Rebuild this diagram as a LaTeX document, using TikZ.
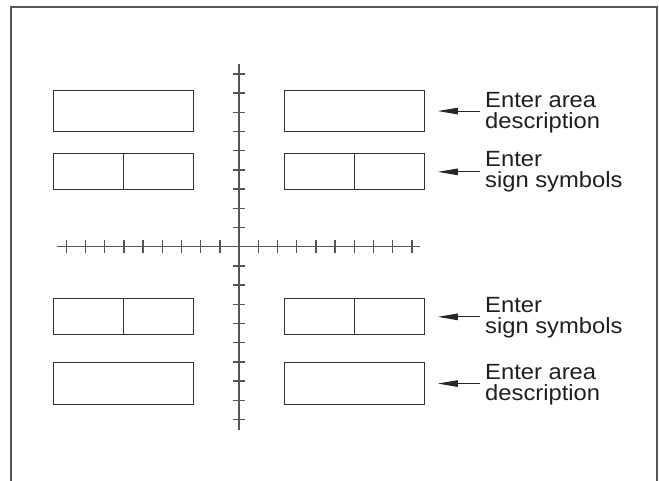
\documentclass[tikz,border=0pt]{standalone}
\usepackage{fontspec}
\newfontfamily\labelfont[FakeStretch=1.08]{Liberation Sans}
\usetikzlibrary{arrows.meta}

\definecolor{inkline}{HTML}{333333}
\definecolor{axisgray}{HTML}{555555}
\definecolor{framegray}{HTML}{555555}

\tikzset{
  field/.style={draw=inkline, line width=1.1pt, minimum width=140pt, inner sep=0pt, anchor=north west},
  areafield/.style={field, minimum height=41pt},
  signfield/.style={field, minimum height=36pt},
  axisline/.style={draw=axisgray, line width=1.5pt},
  tickmark/.style={draw=axisgray, line width=1.4pt},
  callout/.style={font=\labelfont\fontsize{22}{21}\selectfont, text=black!88, align=left, anchor=west, inner sep=0pt},
  pointer/.style={draw=black!85, line width=1pt, -{Triangle[length=20pt,width=6.5pt]}, shorten <=5pt, shorten >=12.7pt},
}

\begin{document}
\begin{tikzpicture}[x=1pt,y=1pt]
  \useasboundingbox (0,0) rectangle (659,-480);

  % open frame (left, top, right)
  \draw[framegray, line width=2pt] (10.7,-481) -- (10.7,-7.3) -- (656.7,-7.3) -- (656.7,-481);

  % axes
  \coordinate (hl) at (56.7,-246.7);
  \coordinate (hr) at (420,-246.7);
  \coordinate (vt) at (239,-64);
  \coordinate (vb) at (239,-430);
  \draw[axisline] (hl) -- (hr);
  \draw[axisline] (vt) -- (vb);
  \foreach \k in {1,...,9} {
    \draw[tickmark] (239-\k*19.2,-240.4) -- (239-\k*19.2,-253);
    \draw[tickmark] (239+\k*19.2,-240.4) -- (239+\k*19.2,-253);
    \draw[tickmark] (232.7,-246.7+\k*19.2) -- (245.3,-246.7+\k*19.2);
    \draw[tickmark] (232.7,-246.7-\k*19.2) -- (245.3,-246.7-\k*19.2);
  }

  % entry fields, upper half
  \node[areafield] (ulA) at (53.3,-90) {};
  \node[areafield, minimum width=139.7pt] (urA) at (284.3,-90) {};
  \node[signfield] (ulS) at (53.3,-153.3) {};
  \node[signfield, minimum width=139.7pt] (urS) at (284.3,-153.3) {};
  % entry fields, lower half
  \node[signfield] (llS) at (53.3,-298.3) {};
  \node[signfield, minimum width=139.7pt] (lrS) at (284.3,-298.3) {};
  \node[areafield, minimum height=41.4pt] (llA) at (53.3,-362.3) {};
  \node[areafield, minimum width=139.7pt, minimum height=41.4pt] (lrA) at (284.3,-362.3) {};

  % dividers of the sign fields
  \foreach \b in {ulS,urS,llS,lrS}
    \draw[inkline, line width=1.1pt] (\b.north) -- (\b.south);

  % callouts
  \node[callout] (t1) at (485,-112.5) {Enter area\\description};
  \node[callout] (t2) at (485,-172.2) {Enter\\sign symbols};
  \node[callout] (t3) at (485,-317.8) {Enter\\sign symbols};
  \node[callout] (t4) at (485,-384.5) {Enter area\\description};

  \draw[pointer] (t1.west |- urA.east) -- (urA.east);
  \draw[pointer] (t2.west |- urS.east) -- (urS.east);
  \draw[pointer] (t3.west |- lrS.east) -- (lrS.east);
  \draw[pointer] (t4.west |- lrA.east) -- (lrA.east);
\end{tikzpicture}
\end{document}
